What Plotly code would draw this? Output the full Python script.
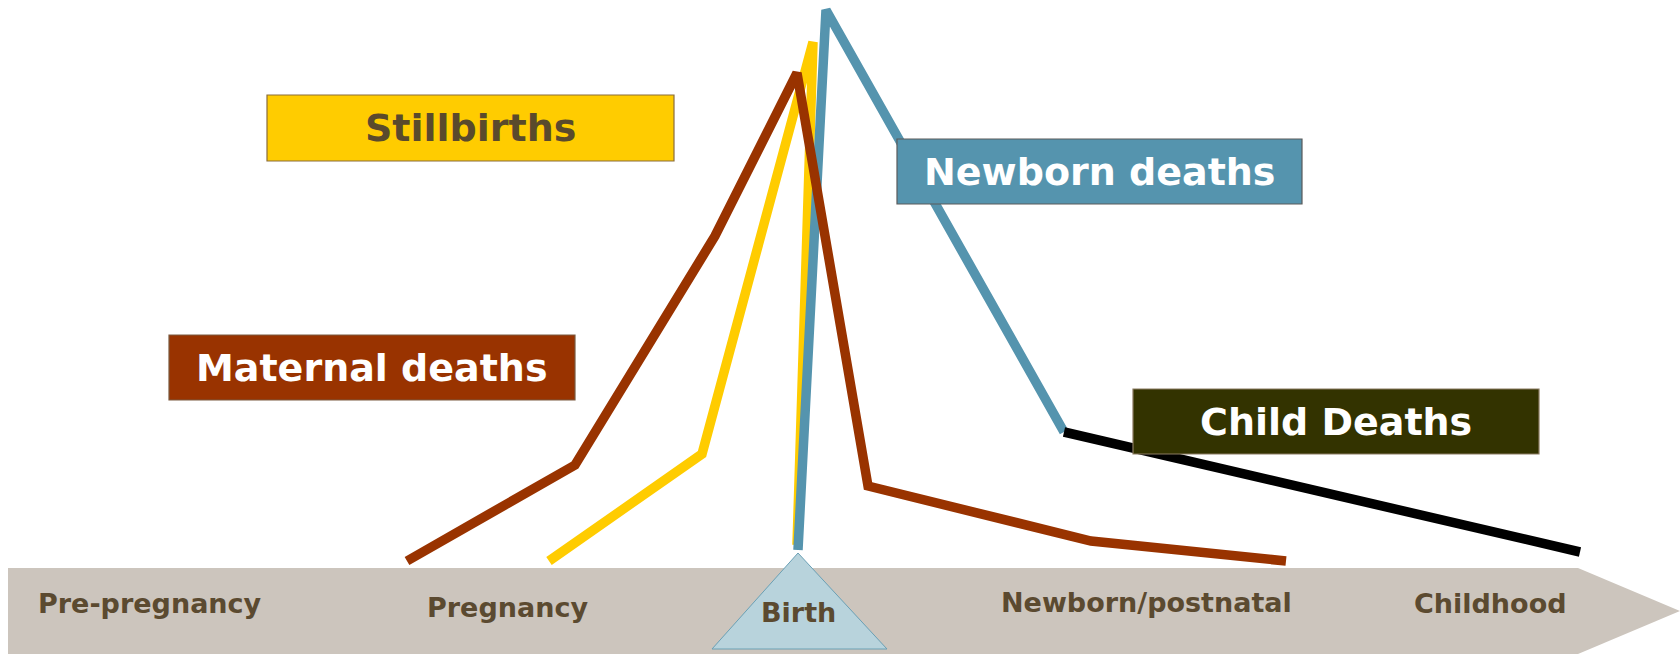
import plotly.graph_objects as go

# ---- Data (x = position along the continuum, y = relative level above page bottom) ----
stages = ["Pre-pregnancy", "Pregnancy", "Birth", "Newborn/postnatal", "Childhood"]
stage_x = [150, 507, 798, 1146, 1490]
stage_y = [52, 48, 43, 53, 52]

maternal_x = [407, 575, 715, 797, 868, 1091, 1286]
maternal_y = [94, 190, 419, 582, 169, 114, 94]

stillbirth_x = [549, 702, 813, 797]
stillbirth_y = [94, 201, 613, 110]

newborn_x = [798, 826, 1064]
newborn_y = [105, 645, 223]

child_x = [1064, 1580]
child_y = [223, 103]

box_labels = ["Stillbirths", "Newborn deaths", "Maternal deaths", "Child Deaths"]
box_fill = ["#ffcc00", "#5594ae", "#993300", "#333300"]
box_text_color = ["#5a4a2c", "#ffffff", "#ffffff", "#ffffff"]
box_border = ["#8a6d3b", "#5a5a5a", "#7a5a40", "#8a7a60"]
box_x0 = [267, 897, 169, 1133]
box_x1 = [674, 1302, 575, 1539]
box_y0 = [494, 451, 255, 201]
box_y1 = [560, 516, 320, 266]

W, H = 1680, 655
FONT = "DejaVu Sans"

fig = go.Figure()

# band arrow + birth triangle (below traces)
shapes = [
    dict(type="path", layer="below",
         path="M 8 1 L 8 87 L 1578 87 L 1680 44 L 1578 1 Z",
         fillcolor="#ccc5bd", line=dict(width=0)),
    dict(type="path", layer="below",
         path="M 798 102 L 712 6 L 887 6 Z",
         fillcolor="#b8d3dc", line=dict(color="#6aa0b5", width=1)),
]

series = [
    (stillbirth_x, stillbirth_y, "#ffcc00", "Stillbirths"),
    (newborn_x, newborn_y, "#5594ae", "Newborn deaths"),
    (child_x, child_y, "#000000", "Child deaths"),
    (maternal_x, maternal_y, "#993300", "Maternal deaths"),
]
for xs, ys, col, name in series:
    fig.add_trace(go.Scatter(x=xs, y=ys, mode="lines", name=name,
                             line=dict(color=col, width=9.5),
                             hoverinfo="skip", showlegend=False))

annotations = []
for i, lab in enumerate(box_labels):
    shapes.append(dict(type="rect", layer="above",
                       x0=box_x0[i], x1=box_x1[i], y0=box_y0[i], y1=box_y1[i],
                       fillcolor=box_fill[i],
                       line=dict(color=box_border[i], width=1.2)))
    annotations.append(dict(x=(box_x0[i] + box_x1[i]) / 2,
                            y=(box_y0[i] + box_y1[i]) / 2,
                            text=lab, showarrow=False,
                            xanchor="center", yanchor="middle",
                            font=dict(family=FONT, size=38, weight="bold",
                                      color=box_text_color[i])))

for sx, sy, lab in zip(stage_x, stage_y, stages):
    annotations.append(dict(x=sx, y=sy, text=lab, showarrow=False,
                            xanchor="center", yanchor="middle",
                            font=dict(family=FONT, size=27, weight="bold",
                                      color="#5b4a30")))

fig.update_layout(
    width=W, height=H,
    margin=dict(l=0, r=0, t=0, b=0),
    paper_bgcolor="white", plot_bgcolor="white",
    xaxis=dict(range=[0, W], visible=False, fixedrange=True),
    yaxis=dict(range=[0, H], visible=False, fixedrange=True),
    shapes=shapes, annotations=annotations,
    showlegend=False,
)

fig.write_html("out.html", config={"displayModeBar": False},
               post_script="document.body.style.margin='0';document.body.style.overflow='hidden';")
